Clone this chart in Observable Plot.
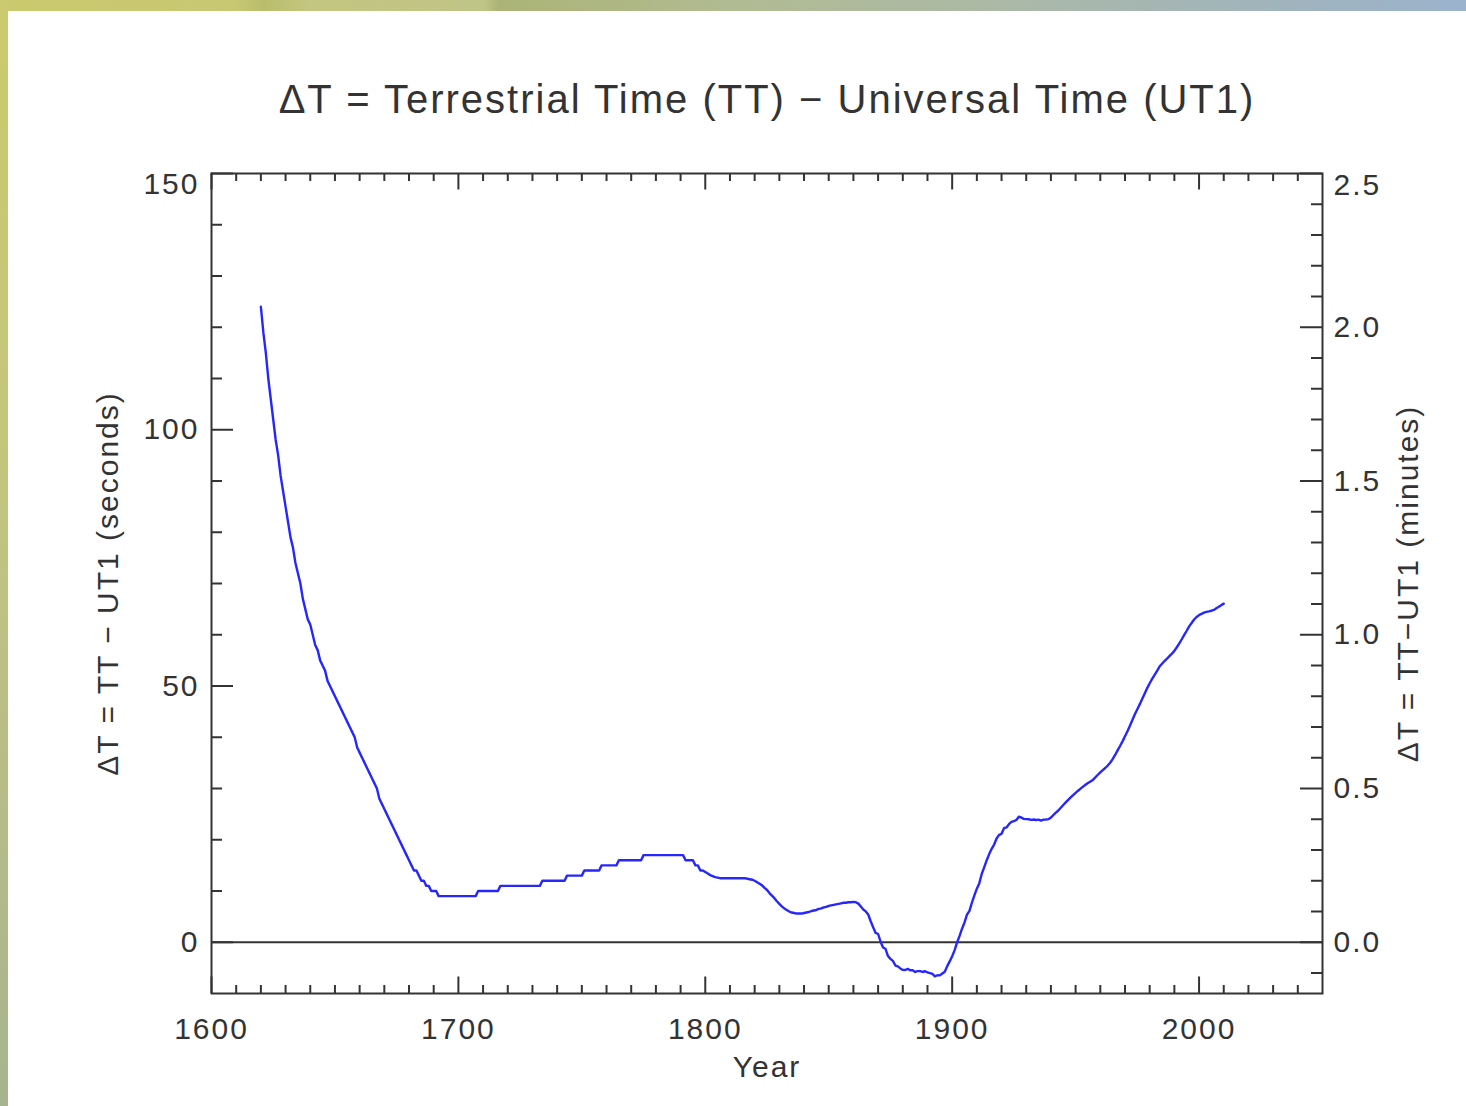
<!DOCTYPE html>
<html><head><meta charset="utf-8">
<script src="https://cdn.jsdelivr.net/npm/d3@7"></script>
<script src="https://cdn.jsdelivr.net/npm/@observablehq/plot@0.6"></script>
<style>
html,body{margin:0;padding:0;background:#fff;}
#wrap{position:relative;width:1466px;height:1106px;overflow:hidden;background:#fff;}
#topband{position:absolute;left:0;top:0;width:1466px;height:11px;z-index:2;
 background:linear-gradient(to right,#cbc96d 0%,#c8c874 16%,#b9bd6b 18%,#c4c680 21%,#bfc587 33%,#abb476 34%,#b1bb92 50%,#abb9a6 68%,#a3b5b6 82%,#9bb3cd 100%);}
#leftband{position:absolute;left:0;top:0;width:8px;height:1106px;z-index:2;
 background:linear-gradient(to bottom,#cbca6e 0%,#c4c67c 40%,#b8bd87 70%,#a6b48f 100%);}
#chart{position:absolute;left:0;top:0;}
#chart text{letter-spacing:2px;}
#chart g[aria-label="title"] text{letter-spacing:2.4px;word-spacing:9px;}
#chart g[aria-label="ylabel-left"] text{word-spacing:12px;}
#chart g[aria-label="ylabel-right"] text{word-spacing:11px;}
</style></head>
<body><div id="wrap"><div id="topband"></div><div id="leftband"></div><div id="chart"></div></div>
<script>
// ---- data: Delta T (seconds), one value per year 1620..2010 ----
const years = d3.range(1620, 2011);
const deltaT = [
 124,119,115,110,106,102,98,95,91,88,
 85,82,79,77,74,72,70,67,65,63,
 62,60,58,57,55,54,53,51,50,49,
 48,47,46,45,44,43,42,41,40,38,
 37,36,35,34,33,32,31,30,28,27,
 26,25,24,23,22,21,20,19,18,17,
 16,15,14,14,13,12,12,11,11,10,
 10,10,9,9,9,9,9,9,9,9,
 9,9,9,9,9,9,9,9,10,10,
 10,10,10,10,10,10,10,11,11,11,
 11,11,11,11,11,11,11,11,11,11,
 11,11,11,11,12,12,12,12,12,12,
 12,12,12,12,13,13,13,13,13,13,
 13,14,14,14,14,14,14,14,15,15,
 15,15,15,15,15,16,16,16,16,16,
 16,16,16,16,16,17,17,17,17,17,
 17,17,17,17,17,17,17,17,17,17,
 17,17,16,16,16,16,15,15,14,14,
 13.7,13.4,13.1,12.9,12.7,12.6,12.5,12.5,12.5,12.5,
 12.5,12.5,12.5,12.5,12.5,12.5,12.5,12.4,12.3,12.2,
 12.0,11.7,11.4,11.1,10.6,10.2,9.6,9.1,8.6,8.0,
 7.5,7.0,6.6,6.3,6.0,5.8,5.7,5.6,5.6,5.6,
 5.7,5.8,5.9,6.1,6.2,6.3,6.5,6.6,6.8,6.9,
 7.1,7.2,7.3,7.4,7.5,7.6,7.7,7.7,7.8,7.8,
 7.88,7.82,7.54,6.97,6.40,6.02,5.41,4.10,2.92,1.82,
 1.61,0.10,-1.02,-1.28,-2.69,-3.24,-3.64,-4.54,-4.71,-5.11,
 -5.40,-5.42,-5.20,-5.46,-5.46,-5.79,-5.63,-5.64,-5.80,-5.66,
 -5.87,-6.01,-6.19,-6.64,-6.44,-6.47,-6.09,-5.76,-4.66,-3.74,
 -2.72,-1.54,-0.02,1.24,2.64,3.86,5.37,6.14,7.75,9.13,
 10.46,11.53,13.36,14.65,16.01,17.20,18.24,19.06,20.25,20.95,
 21.16,22.25,22.41,23.03,23.49,23.62,23.86,24.49,24.34,24.08,
 24.02,24.00,23.87,23.95,23.86,23.93,23.73,23.92,23.96,24.02,
 24.33,24.83,25.30,25.70,26.24,26.77,27.28,27.78,28.25,28.71,
 29.15,29.57,29.97,30.36,30.72,31.07,31.35,31.68,32.18,32.68,
 33.15,33.59,34.00,34.47,35.03,35.73,36.54,37.43,38.29,39.20,
 40.18,41.17,42.23,43.37,44.49,45.48,46.46,47.52,48.53,49.59,
 50.54,51.38,52.17,52.96,53.79,54.34,54.87,55.32,55.82,56.30,
 56.86,57.57,58.31,59.12,59.98,60.78,61.63,62.29,62.97,63.47,
 63.83,64.09,64.30,64.47,64.57,64.69,64.85,65.15,65.46,65.78,
 66.07
];

// ---- axes / ticks / labels ----
const xDomain = [1600, 2050];
const yDomain = [-10, 150];
const xMajorTicks = [1600, 1700, 1800, 1900, 2000];
const xMinorTicks = d3.range(1610, 2050, 10).filter(d => d % 100 !== 0);
const ySecTicks = [0, 50, 100, 150];
const ySecMinor = [10, 20, 30, 40, 60, 70, 80, 90, 110, 120, 130, 140];
const yMinTicks = [0, 0.5, 1.0, 1.5, 2.0, 2.5];
const yMinMinor = d3.range(-1, 25).filter(i => i % 5 !== 0).map(i => i / 10);
const titleText = "ΔT = Terrestrial Time (TT) − Universal Time (UT1)";
const xLabel = "Year";
const yLeftLabel = "ΔT = TT − UT1 (seconds)";
const yRightLabel = "ΔT = TT−UT1 (minutes)";

const data = years.map((year, i) => ({year, dt: deltaT[i]}));

const width = 1466, height = 1106;
const mL = 211, mR = 144, mT = 173, mB = 113;
const W = width - mL - mR, H = height - mT - mB;
const ink = "#333";
const fs = 30;
const xMajLen = 16.5, xMinLen = 8, yMajLen = 22, yMinLen = 11;

const chart = Plot.plot({
  width, height,
  marginLeft: mL, marginRight: mR, marginTop: mT, marginBottom: mB,
  x: {domain: xDomain, axis: null},
  y: {domain: yDomain, axis: null},
  style: {background: "transparent", fontFamily: "'Liberation Sans', Arial, sans-serif"},
  marks: [
    Plot.ruleY([0], {stroke: ink, strokeWidth: 2}),
    Plot.line(data, {x: "year", y: "dt", stroke: "#2626ff", strokeWidth: 2.4}),
    // x ticks (bottom & top, pointing inward)
    Plot.tickX(xMajorTicks, {x: d => d, insetTop: H - xMajLen, stroke: ink, strokeWidth: 2}),
    Plot.tickX(xMinorTicks, {x: d => d, insetTop: H - xMinLen, stroke: ink, strokeWidth: 2}),
    Plot.tickX(xMajorTicks, {x: d => d, insetBottom: H - xMajLen, stroke: ink, strokeWidth: 2}),
    Plot.tickX(xMinorTicks, {x: d => d, insetBottom: H - xMinLen, stroke: ink, strokeWidth: 2}),
    // left y ticks (seconds)
    Plot.tickY(ySecTicks, {y: d => d, insetRight: W - yMajLen, stroke: ink, strokeWidth: 2}),
    Plot.tickY(ySecMinor, {y: d => d, insetRight: W - yMinLen, stroke: ink, strokeWidth: 2}),
    // right y ticks (minutes)
    Plot.tickY(yMinTicks, {y: d => d * 60, insetLeft: W - yMajLen, stroke: ink, strokeWidth: 2}),
    Plot.tickY(yMinMinor, {y: d => d * 60, insetLeft: W - yMinLen, stroke: ink, strokeWidth: 2}),
    Plot.frame({stroke: ink, strokeWidth: 2}),
    // tick labels
    Plot.text(xMajorTicks, {x: d => d, text: d => String(d), frameAnchor: "bottom", dy: 24, lineAnchor: "top", fontSize: fs, fill: ink}),
    Plot.text(ySecTicks, {filter: d => d < yDomain[1], y: d => d, text: d => String(d), frameAnchor: "left", dx: -12, textAnchor: "end", fontSize: fs, fill: ink}),
    Plot.text(ySecTicks, {filter: d => d === yDomain[1], y: d => d, text: d => String(d), frameAnchor: "left", dx: -12, dy: 11, textAnchor: "end", fontSize: fs, fill: ink}),
    Plot.text(yMinTicks, {filter: d => d * 60 < yDomain[1], y: d => d * 60, text: d => d.toFixed(1), frameAnchor: "right", dx: 11, textAnchor: "start", fontSize: fs, fill: ink}),
    Plot.text(yMinTicks, {filter: d => d * 60 === yDomain[1], y: d => d * 60, text: d => d.toFixed(1), frameAnchor: "right", dx: 11, dy: 12, textAnchor: "start", fontSize: fs, fill: ink}),
    // titles
    Plot.text([titleText], {frameAnchor: "top", dy: -73, lineAnchor: "middle", textAnchor: "middle", fontSize: 40, fill: ink, ariaLabel: "title"}),
    Plot.text([xLabel], {frameAnchor: "bottom", dy: 74, lineAnchor: "middle", textAnchor: "middle", fontSize: fs, fill: ink}),
    Plot.text([yLeftLabel], {frameAnchor: "left", dx: -103, rotate: -90, lineAnchor: "middle", textAnchor: "middle", fontSize: fs, fill: ink, ariaLabel: "ylabel-left"}),
    Plot.text([yRightLabel], {frameAnchor: "right", dx: 86, rotate: -90, lineAnchor: "middle", textAnchor: "middle", fontSize: fs, fill: ink, ariaLabel: "ylabel-right"})
  ]
});
document.getElementById("chart").appendChild(chart);
</script>
</body></html>
